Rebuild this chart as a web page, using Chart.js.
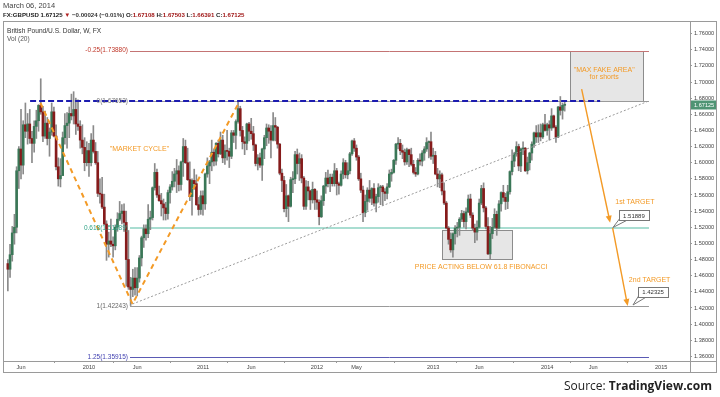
<!DOCTYPE html>
<html><head><meta charset="utf-8">
<script src="https://cdn.jsdelivr.net/npm/chart.js@4.4.0/dist/chart.umd.min.js"></script>
<style>html,body{margin:0;padding:0;background:#fff}#wrap{width:720px;height:397px;position:relative}</style>
</head><body><div id="wrap"><canvas id="c" width="720" height="397"></canvas></div>
<script>
// ---- DATA (weekly GBP/USD candles, week commencing Mon 20 Apr 2009 .. 3 Mar 2014) ----
const firstWeek = '2009-04-20';
const firstOpen = 1.4750;
const closes = [
// 2009
1.4680,1.4860,1.5130,1.5200,1.5900,1.6170,1.5970,1.6470,1.6390,1.6480,1.6300,1.6240,1.6450,1.6520,1.6710,1.6630,1.6330,1.6490,1.6300,1.6380,1.6630,1.6330,1.5950,1.5800,1.5840,1.6310,1.6460,1.6490,1.6610,1.6580,1.6660,1.6480,1.6450,1.6280,1.6190,1.6000,1.6150,
// 2010
1.6000,1.6280,1.6140,1.6000,1.5620,1.5610,1.5450,1.5240,1.4990,1.5030,1.4990,1.4970,1.5200,1.5300,1.5370,1.5400,1.5260,1.4800,1.4460,1.4430,1.4570,1.4450,1.4570,1.4820,1.5070,1.5180,1.5120,1.5300,1.5320,1.5690,1.5880,1.5600,1.5530,1.5490,1.5440,1.5370,1.5630,1.5700,1.5770,1.5860,1.5900,1.5730,1.6010,1.6200,1.6000,1.5790,1.5580,1.5780,1.5740,1.5480,1.5420,1.5590,
// 2011
1.5490,1.5860,1.5960,1.6010,1.6130,1.6020,1.6240,1.6110,1.6280,1.6060,1.6150,1.6140,1.6080,1.6370,1.6340,1.6510,1.6670,1.6400,1.6260,1.6240,1.6480,1.6390,1.6360,1.6220,1.5990,1.6060,1.5970,1.6170,1.6310,1.6430,1.6390,1.6280,1.6460,1.6440,1.6230,1.5870,1.5780,1.5430,1.5590,1.5460,1.5790,1.5800,1.6100,1.5990,1.6050,1.5810,1.5460,1.5700,1.5650,1.5540,1.5670,1.5540,
// 2012
1.5510,1.5330,1.5530,1.5710,1.5810,1.5740,1.5820,1.5740,1.5900,1.5740,1.5720,1.5860,1.6000,1.5850,1.5900,1.6110,1.6270,1.6180,1.6070,1.5800,1.5660,1.5380,1.5520,1.5660,1.5560,1.5680,1.5500,1.5580,1.5690,1.5700,1.5640,1.5620,1.5700,1.5860,1.5880,1.6030,1.6230,1.6240,1.6150,1.6130,1.6010,1.6160,1.6100,1.5980,1.5880,1.5860,1.6030,1.6020,1.6120,1.6170,1.6250,1.6260,1.6080,
// 2013
1.6090,1.5860,1.5800,1.5850,1.5650,1.5500,1.5190,1.5050,1.4920,1.5120,1.5190,1.5200,1.5300,1.5370,1.5270,1.5390,1.5550,1.5350,1.5190,1.5140,1.5200,1.5500,1.5680,1.5440,1.5210,1.4870,1.5120,1.5200,1.5360,1.5190,1.5490,1.5630,1.5570,1.5520,1.5640,1.5890,1.6020,1.6110,1.6200,1.5960,1.6170,1.6180,1.5900,1.6000,1.6120,1.6230,1.6370,1.6320,1.6370,1.6320,1.6470,1.6400,
// 2014
1.6470,1.6430,1.6580,1.6440,1.6320,1.6690,1.6650,1.67108,1.67125
];
const highs = [
1.4800,1.4990,1.5210,1.5360,1.5950,1.6200,1.6660,1.6520,1.6740,1.6610,1.6660,1.6390,1.6520,1.6650,1.6720,1.7040,1.6700,1.6640,1.6560,1.6430,1.6740,1.6690,1.6470,1.6060,1.6050,1.6380,1.6610,1.6620,1.6690,1.6850,1.6880,1.6800,1.6780,1.6520,1.6470,1.6310,1.6260,
1.6240,1.6360,1.6460,1.6250,1.6140,1.5800,1.5820,1.5610,1.5280,1.5140,1.5300,1.5080,1.5230,1.5380,1.5520,1.5480,1.5490,1.5400,1.5160,1.4580,1.4680,1.4700,1.4700,1.4850,1.5090,1.5230,1.5230,1.5480,1.5400,1.5700,1.5990,1.5920,1.5710,1.5620,1.5550,1.5510,1.5660,1.5730,1.5890,1.5930,1.6040,1.5960,1.6020,1.6300,1.6280,1.6180,1.6010,1.5800,1.5920,1.5850,1.5570,1.5650,
1.5650,1.5870,1.6060,1.6030,1.6280,1.6170,1.6250,1.6280,1.6380,1.6340,1.6220,1.6400,1.6180,1.6400,1.6400,1.6530,1.6750,1.6700,1.6450,1.6320,1.6490,1.6500,1.6550,1.6450,1.6230,1.6100,1.6120,1.6180,1.6340,1.6480,1.6470,1.6460,1.6620,1.6560,1.6450,1.6240,1.5920,1.5830,1.5730,1.5600,1.5820,1.5890,1.6140,1.6170,1.6120,1.6100,1.5830,1.5780,1.5770,1.5660,1.5760,1.5680,
1.5650,1.5540,1.5590,1.5720,1.5880,1.5910,1.5860,1.5860,1.5990,1.5930,1.5760,1.5900,1.6050,1.6030,1.6000,1.6130,1.6280,1.6300,1.6220,1.6090,1.5870,1.5710,1.5600,1.5690,1.5780,1.5690,1.5740,1.5610,1.5740,1.5720,1.5720,1.5680,1.5740,1.5910,1.5920,1.6040,1.6240,1.6310,1.6290,1.6220,1.6170,1.6180,1.6170,1.6180,1.6030,1.5940,1.6050,1.6110,1.6150,1.6200,1.6310,1.6270,1.6380,
1.6180,1.6140,1.5930,1.5900,1.5870,1.5750,1.5520,1.5210,1.5130,1.5130,1.5220,1.5260,1.5320,1.5410,1.5400,1.5440,1.5600,1.5610,1.5380,1.5240,1.5280,1.5550,1.5720,1.5750,1.5460,1.5320,1.5210,1.5310,1.5430,1.5400,1.5530,1.5640,1.5720,1.5620,1.5720,1.5900,1.6160,1.6130,1.6260,1.6230,1.6180,1.6260,1.6190,1.6070,1.6130,1.6260,1.6380,1.6460,1.6470,1.6480,1.6490,1.6600,
1.6490,1.6520,1.6670,1.6590,1.6460,1.6700,1.6820,1.6740,1.67503
];
const lows = [
1.4410,1.4580,1.4780,1.4990,1.5130,1.5680,1.5800,1.5860,1.6310,1.6230,1.6240,1.6000,1.6130,1.6300,1.6390,1.6600,1.6260,1.6300,1.6220,1.6080,1.6340,1.6320,1.5910,1.5710,1.5700,1.5860,1.6230,1.6180,1.6310,1.6530,1.6480,1.6350,1.6400,1.6180,1.6110,1.5900,1.5960,
1.5830,1.5960,1.6120,1.5980,1.5580,1.5500,1.5430,1.5230,1.4790,1.4830,1.4960,1.4830,1.4920,1.5150,1.5280,1.5240,1.5150,1.4470,1.4430,1.4230,1.4340,1.4360,1.4350,1.4520,1.4720,1.4950,1.5040,1.5070,1.5170,1.5290,1.5660,1.5570,1.5520,1.5340,1.5290,1.5290,1.5300,1.5500,1.5660,1.5700,1.5630,1.5650,1.5660,1.5830,1.5990,1.5780,1.5530,1.5350,1.5670,1.5470,1.5350,1.5360,
1.5350,1.5420,1.5820,1.5740,1.5900,1.5960,1.5970,1.6070,1.6100,1.6000,1.5980,1.6030,1.5940,1.6050,1.6250,1.6170,1.6490,1.6330,1.6170,1.6100,1.6160,1.6270,1.6290,1.6150,1.5960,1.5910,1.5940,1.5780,1.6050,1.6210,1.6240,1.6060,1.6270,1.6270,1.6180,1.5850,1.5640,1.5390,1.5330,1.5270,1.5450,1.5630,1.5740,1.5860,1.5780,1.5750,1.5420,1.5420,1.5540,1.5420,1.5500,1.5420,
1.5420,1.5230,1.5320,1.5470,1.5620,1.5700,1.5640,1.5710,1.5710,1.5600,1.5610,1.5710,1.5800,1.5810,1.5800,1.5860,1.6090,1.6140,1.6030,1.5780,1.5630,1.5270,1.5330,1.5410,1.5510,1.5480,1.5460,1.5390,1.5510,1.5480,1.5470,1.5530,1.5550,1.5690,1.5770,1.5870,1.5980,1.6170,1.6100,1.6050,1.5970,1.5980,1.5950,1.5960,1.5860,1.5830,1.5850,1.5970,1.5960,1.6030,1.6140,1.6060,1.6040,
1.5990,1.5850,1.5700,1.5690,1.5600,1.5480,1.5180,1.4990,1.4890,1.4830,1.4990,1.5080,1.5100,1.5270,1.5200,1.5180,1.5380,1.5320,1.5170,1.5010,1.5040,1.5190,1.5480,1.5390,1.5180,1.4860,1.4810,1.5060,1.5190,1.5100,1.5180,1.5400,1.5520,1.5420,1.5430,1.5610,1.5850,1.5950,1.6080,1.5900,1.5890,1.6100,1.5890,1.5860,1.5910,1.6030,1.6190,1.6250,1.6250,1.6270,1.6300,1.6390,
1.6340,1.6280,1.6400,1.6430,1.6250,1.6310,1.6590,1.6540,1.66391
];
// weekly open = previous week's close (FX market)
const opens = [firstOpen].concat(closes.slice(0, -1));

const yTicks = [1.36,1.38,1.40,1.42,1.44,1.46,1.48,1.50,1.52,1.54,1.56,1.58,1.60,1.62,1.64,1.66,1.68,1.70,1.72,1.74,1.76];
const xTickDates  = ['2009-06-01','2010-01-04','2010-06-07','2011-01-03','2011-06-06','2012-01-02','2012-05-07','2013-01-07','2013-06-03','2014-01-06','2014-06-02','2015-01-05'];
const xTickLabels = ['Jun','2010','Jun','2011','Jun','2012','May','2013','Jun','2014','Jun','2015'];

// Fibonacci levels drawn on the chart
const fibRatios = ['-0.25','0','0.618','1','1.25'];
const fibPrices = [1.73880, 1.67653, 1.51889, 1.42243, 1.35915];
const fibFrom = '2010-05-15', fibTo = '2014-11-27';

// annotations (data coordinates: date, price)
const resistanceLine = {from:'2009-06-30', to:'2014-06-24', price:1.67653};
const cycleDates  = ['2009-08-02','2010-05-23','2011-04-27'];
const cyclePrices = [1.6740, 1.4249, 1.6740];
const trendDates  = ['2010-05-23','2014-11-27'];
const trendPrices = [1.4249, 1.67653];
const fakeArea  = {from:'2014-03-20', to:'2014-11-08', top:1.73880, bottom:1.67653};
const priceArea = {from:'2013-02-04', to:'2013-09-16', top:1.5166, bottom:1.4807};
const arrows = [
  {from:['2014-04-26',1.6913], to:['2014-07-26',1.5257]},
  {from:['2014-08-03',1.5191], to:['2014-09-20',1.4224]}
];
const notes = [
  {text:'"MARKET CYCLE"', at:['2010-06-14',1.6170]},
  {text:'"MAX FAKE AREA"', at:['2014-07-07',1.7149]},
  {text:'for shorts', at:['2014-07-07',1.7062]},
  {text:'PRICE ACTING BELOW 61.8 FIBONACCI', at:['2013-06-09',1.4711]},
  {text:'1st TARGET', at:['2014-10-13',1.5513]},
  {text:'2nd TARGET', at:['2014-11-29',1.4546]}
];
const callouts = [
  {text:'1.51889', at:['2014-10-10',1.5346], tip:['2014-08-04',1.5197]},
  {text:'1.42325', at:['2014-12-10',1.4398], tip:['2014-10-07',1.4237]}
];
const lastPrice = 1.67125;

// ---- CHART ----
const DAY = 864e5;
const t0 = Date.parse(firstWeek);
const times = closes.map((_, i) => t0 + i * 7 * DAY);
const UP = '#3a7757', DOWN = '#861b1b';
const candleColors = closes.map((c, i) => c >= opens[i] ? UP : DOWN);
const FONT = 'Liberation Sans, Arial, sans-serif';
const ORANGE = '#f39a26';

const overlay = {
  id: 'overlay',
  beforeDatasetsDraw(chart) {
    const {ctx, scales:{x, y}} = chart;
    const X = d => x.getPixelForValue(Date.parse(d));
    const Y = v => y.getPixelForValue(v);
    ctx.save();
    [fakeArea, priceArea].forEach(b => {
      const x1 = Math.round(X(b.from)) + .5, x2 = Math.round(X(b.to)) + .5;
      const y1 = Math.round(Y(b.top)) + .5, y2 = Math.round(Y(b.bottom)) + .5;
      ctx.fillStyle = '#e6e6e6';
      ctx.fillRect(x1, y1, x2 - x1, y2 - y1);
      ctx.strokeStyle = '#8c8c8c'; ctx.lineWidth = 1;
      ctx.strokeRect(x1, y1, x2 - x1, y2 - y1);
    });
    const fibLine = ['#c47474','#9a9a9a','#a9ddd1','#9a9a9a','#5a5ab4'];
    fibPrices.forEach((p, i) => {
      ctx.strokeStyle = fibLine[i];
      ctx.lineWidth = i === 2 ? 2 : 1;
      const yy = i === 2 ? Math.round(Y(p)) : Math.round(Y(p)) + .5;
      ctx.beginPath(); ctx.moveTo(X(fibFrom), yy); ctx.lineTo(X(fibTo), yy); ctx.stroke();
    });
    ctx.restore();
  },
  afterDatasetsDraw(chart) {
    const {ctx, scales:{x, y}} = chart;
    const X = d => x.getPixelForValue(Date.parse(d));
    const Y = v => y.getPixelForValue(v);
    ctx.save();
    ctx.strokeStyle = '#9a9a9a'; ctx.lineWidth = 1; ctx.setLineDash([2, 2]);
    ctx.beginPath(); ctx.moveTo(X(trendDates[0]), Y(trendPrices[0])); ctx.lineTo(X(trendDates[1]), Y(trendPrices[1])); ctx.stroke();
    ctx.strokeStyle = '#1c1cb0'; ctx.lineWidth = 2; ctx.setLineDash([6, 3]);
    const ry = Math.round(Y(resistanceLine.price));
    ctx.beginPath(); ctx.moveTo(X(resistanceLine.from), ry); ctx.lineTo(X(resistanceLine.to), ry); ctx.stroke();
    ctx.strokeStyle = ORANGE; ctx.lineWidth = 2; ctx.setLineDash([5, 4]);
    ctx.beginPath();
    cycleDates.forEach((d, i) => { const px = X(d), py = Y(cyclePrices[i]); i ? ctx.lineTo(px, py) : ctx.moveTo(px, py); });
    ctx.stroke();
    ctx.setLineDash([]);
    ctx.strokeStyle = ORANGE; ctx.fillStyle = ORANGE; ctx.lineWidth = 1.4;
    arrows.forEach(a => {
      const x1 = X(a.from[0]), y1 = Y(a.from[1]), x2 = X(a.to[0]), y2 = Y(a.to[1]);
      const ang = Math.atan2(y2 - y1, x2 - x1);
      ctx.beginPath(); ctx.moveTo(x1, y1); ctx.lineTo(x2 - 4 * Math.cos(ang), y2 - 4 * Math.sin(ang)); ctx.stroke();
      ctx.beginPath();
      ctx.moveTo(x2, y2);
      ctx.lineTo(x2 - 7 * Math.cos(ang) + 3 * Math.sin(ang), y2 - 7 * Math.sin(ang) - 3 * Math.cos(ang));
      ctx.lineTo(x2 - 7 * Math.cos(ang) - 3 * Math.sin(ang), y2 - 7 * Math.sin(ang) + 3 * Math.cos(ang));
      ctx.closePath(); ctx.fill();
    });
    const fibText = ['#c0392b','#777777','#2fa386','#666666','#3f3fb0'];
    ctx.font = '6.5px ' + FONT; ctx.textAlign = 'right'; ctx.textBaseline = 'middle';
    fibPrices.forEach((p, i) => {
      ctx.fillStyle = fibText[i];
      ctx.fillText(fibRatios[i] + '(' + p.toFixed(5) + ')', X(fibFrom) - 2, Y(p));
    });
    ctx.textAlign = 'center'; ctx.fillStyle = ORANGE; ctx.font = '7px ' + FONT;
    notes.forEach(n => ctx.fillText(n.text, X(n.at[0]), Y(n.at[1])));
    ctx.font = '6px ' + FONT;
    callouts.forEach(c => {
      const cx = X(c.at[0]), cy = Y(c.at[1]);
      const w = 30, h = 10, bx = Math.round(cx - w / 2) + .5, by = Math.round(cy - h / 2) + .5;
      const tx = X(c.tip[0]), ty = Y(c.tip[1]);
      ctx.strokeStyle = '#777'; ctx.fillStyle = '#fff'; ctx.lineWidth = 1;
      ctx.beginPath(); ctx.moveTo(bx + 1, by + h - 3); ctx.lineTo(tx, ty); ctx.lineTo(bx + 7, by + h); ctx.closePath(); ctx.fill(); ctx.stroke();
      ctx.fillRect(bx, by, w, h); ctx.strokeRect(bx, by, w, h);
      ctx.fillStyle = '#333'; ctx.fillText(c.text, cx, cy + .5);
    });
    ctx.restore();
  },
  afterDraw(chart) {
    const {ctx, chartArea:a, scales:{y}} = chart;
    ctx.save();
    ctx.strokeStyle = '#9a9a9a'; ctx.lineWidth = 1;
    ctx.strokeRect(3.5, 21.5, 713, 351);
    ctx.beginPath();
    ctx.moveTo(a.right + .5, 21.5); ctx.lineTo(a.right + .5, 372.5);
    ctx.moveTo(3.5, a.bottom + .5); ctx.lineTo(716.5, a.bottom + .5);
    ctx.stroke();
    ctx.textBaseline = 'middle'; ctx.textAlign = 'left';
    ctx.font = '7.5px ' + FONT; ctx.fillStyle = '#444';
    ctx.fillText('March 06, 2014', 3, 5.5);
    const parts = [
      ['FX:GBPUSD ', '#222'], ['1.67125 ', '#222'], ['▼', '#b01e1e'],
      [' −0.00024 (−0.01%) ', '#333'],
      ['O:', '#222'], ['1.67108 ', '#a01818'],
      ['H:', '#222'], ['1.67503 ', '#a01818'],
      ['L:', '#222'], ['1.66391 ', '#a01818'],
      ['C:', '#222'], ['1.67125', '#a01818']
    ];
    let hx = 3;
    ctx.font = 'bold 6.1px ' + FONT;
    parts.forEach(p => { ctx.fillStyle = p[1]; ctx.fillText(p[0], hx, 15.5); hx += ctx.measureText(p[0]).width; });
    ctx.font = '6.6px ' + FONT; ctx.fillStyle = '#333';
    ctx.fillText('British Pound/U.S. Dollar, W, FX', 7, 31.5);
    ctx.fillStyle = '#555';
    ctx.fillText('Vol (20)', 7, 39.5);
    const py = y.getPixelForValue(lastPrice);
    ctx.fillStyle = '#4f9474';
    ctx.fillRect(a.right + 1, Math.round(py) - 4.5, 25, 9);
    ctx.fillStyle = '#fff'; ctx.font = '5.6px ' + FONT;
    ctx.fillText(lastPrice.toFixed(5), a.right + 4, py);
    ctx.textAlign = 'right'; ctx.fillStyle = '#222';
    ctx.font = 'bold 12px "Open Sans", ' + FONT;
    const brand = 'TradingView.com';
    ctx.fillText(brand, 712, 387);
    const bw = ctx.measureText(brand).width;
    ctx.font = '12px "Open Sans", ' + FONT;
    ctx.fillText('Source: ', 712 - bw, 387);
    ctx.restore();
  }
};

new Chart(document.getElementById('c'), {
  type: 'bar',
  data: {
    datasets: [
      {
        label: 'wick',
        data: times.map((t, i) => ({x: t, y: [lows[i], highs[i]]})),
        backgroundColor: '#8a8a8a', borderWidth: 0,
        barThickness: 1, grouped: false, order: 2
      },
      {
        label: 'body',
        data: times.map((t, i) => ({x: t, y: [opens[i], closes[i]]})),
        backgroundColor: candleColors, borderWidth: 0,
        barThickness: 2, minBarLength: 1, grouped: false, order: 1
      }
    ]
  },
  options: {
    responsive: false, animation: false, devicePixelRatio: 1,
    layout: {padding: {left: 3, top: 22, right: 3, bottom: 25}},
    plugins: {legend: {display: false}, tooltip: {enabled: false}},
    scales: {
      x: {
        type: 'linear', offset: false,
        min: Date.UTC(2009, 3, 4, 12), max: Date.UTC(2015, 3, 7),
        afterBuildTicks: s => { s.ticks = xTickDates.map(d => ({value: Date.parse(d)})); },
        afterFit: s => { s.height = 11; },
        ticks: {
          autoSkip: false, maxRotation: 0, padding: 1, color: '#444',
          font: {size: 5.6, family: FONT},
          callback: (v) => { const k = xTickDates.findIndex(d => Date.parse(d) === v); return k >= 0 ? xTickLabels[k] : ''; }
        },
        grid: {display: true, drawOnChartArea: false, tickLength: 2, color: '#999'},
        border: {display: false}
      },
      y: {
        position: 'right',
        min: 1.35428, max: 1.77435,
        afterBuildTicks: s => { s.ticks = yTicks.map(v => ({value: v})); },
        afterFit: s => { s.width = 27; },
        ticks: {
          padding: 2, color: '#444', font: {size: 5.6, family: FONT},
          callback: v => Number(v).toFixed(5)
        },
        grid: {display: true, drawOnChartArea: false, tickLength: 2, color: '#999'},
        border: {display: false}
      }
    }
  },
  plugins: [overlay]
});
</script>
</body></html>
